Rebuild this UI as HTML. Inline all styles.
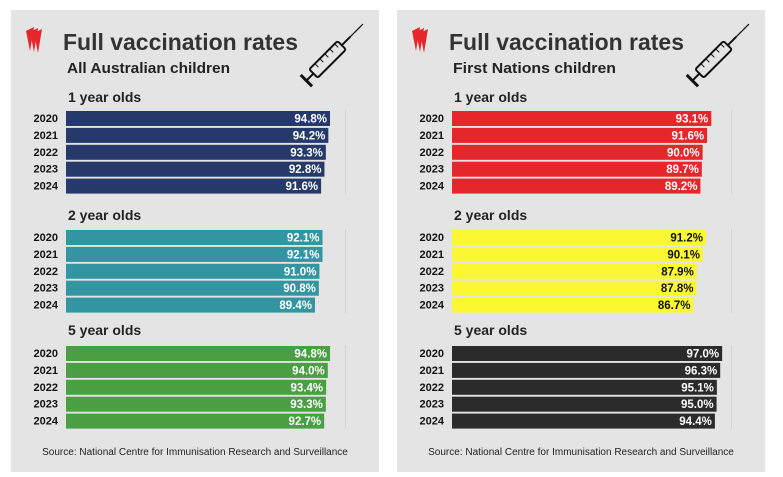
<!DOCTYPE html>
<html><head><meta charset="utf-8">
<style>
html,body{margin:0;padding:0;background:#fff;}
svg{display:block;font-family:"Liberation Sans","DejaVu Sans",sans-serif;}
</style></head>
<body>
<svg id="chart" width="783" height="477" viewBox="0 0 783 477" xmlns="http://www.w3.org/2000/svg"></svg>
<script>
const years = ["2020","2021","2022","2023","2024"];
const groups = ["1 year olds","2 year olds","5 year olds"];
const allOne = [94.8,94.2,93.3,92.8,91.6];
const allTwo = [92.1,92.1,91.0,90.8,89.4];
const allFive = [94.8,94.0,93.4,93.3,92.7];
const fnOne = [93.1,91.6,90.0,89.7,89.2];
const fnTwo = [91.2,90.1,87.9,87.8,86.7];
const fnFive = [97.0,96.3,95.1,95.0,94.4];

const NS="http://www.w3.org/2000/svg";
const svg=document.getElementById('chart');
function mk(tag,attrs,parent){const e=document.createElementNS(NS,tag);for(const k in attrs)e.setAttribute(k,attrs[k]);(parent||svg).appendChild(e);return e;}
const x=v=>55+v*2.785; // panel-local
const sectionTop=[110,229,345];
const rowStep=16.9;
const labelY=[102,220,335];

function panel(ox,name,sub,series,colors,textColors){
  const g=mk('g',{transform:`translate(${ox},0)`});
  
  
  const bg=mk('rect',{x:0,y:10,width:368,height:462,fill:'#e4e4e4'},g);
  
  const logo=mk('g',{fill:'#e5262b'},g);
  
  for(let i=0;i<3;i++)mk('path',{d:`M${15+i*4} ${31+i*1} l8 -4 l-4 24 z`},logo);
  const t=mk('text',{x:52,y:50,'font-size':23,'font-weight':'bold',fill:'#333',textLength:235,lengthAdjust:'spacingAndGlyphs'},g);t.textContent='Full vaccination rates';
  
  const s=mk('text',{x:56,y:73,'font-size':15,'font-weight':'bold',fill:'#222',textLength:163,lengthAdjust:'spacingAndGlyphs'},g);s.textContent=sub;
  
  const sy=mk('g',{stroke:'#111','stroke-width':2,fill:'none',transform:'translate(318,58) rotate(-45)'},g);
  
  mk('rect',{x:-22,y:-6,width:40,height:12,rx:2},sy);
  mk('line',{x1:18,y1:0,x2:30,y2:0},sy);mk('line',{x1:30,y1:0,x2:48,y2:0,'stroke-width':1.3},sy);
  mk('line',{x1:-22,y1:0,x2:-32,y2:0},sy);mk('line',{x1:-32,y1:-8,x2:-32,y2:8,'stroke-width':3},sy);
  for(let k=0;k<5;k++)mk('line',{x1:-14+k*7,y1:-6,x2:-14+k*7,y2:-1,'stroke-width':1},sy);
  series.forEach((vals,si)=>{
    const lab=mk('text',{x:57,y:labelY[si],'font-size':14,'font-weight':'bold',fill:'#222'},g);
    lab.textContent=groups[si];
    
    mk('line',{x1:x(100)+1,y1:sectionTop[si],x2:x(100)+1,y2:sectionTop[si]+84,stroke:'#d2d2d2','stroke-width':1},g);
    vals.forEach((v,i)=>{
      const y=sectionTop[si]+i*rowStep;
      const yl=mk('text',{x:47,y:y+12,'font-size':11,'font-weight':'bold',fill:'#111','text-anchor':'end'},g);
      yl.textContent=years[i];
      
      const b=mk('rect',{x:x(0),y:y+1,width:x(v)-x(0),height:15,fill:colors[si]},g);
      
      const vl=mk('text',{x:x(v)-3,y:y+12.5,'font-size':11.5,'font-weight':'bold',fill:textColors[si],'text-anchor':'end'},g);
      vl.textContent=v.toFixed(1)+'%';
      
    });
  });
  const src=mk('text',{x:184,y:455,'font-size':10,fill:'#222','text-anchor':'middle'},g);
  src.textContent='Source: National Centre for Immunisation Research and Surveillance';
  
}
panel(11,'all-children','All Australian children',[allOne,allTwo,allFive],['#253a6b','#3495a2','#4a9e44'],['#fff','#fff','#fff']);
panel(397,'first-nations','First Nations children',[fnOne,fnTwo,fnFive],['#e5262b','#fbf733','#2b2b2b'],['#fff','#111','#fff']);
</script>
</body></html>
